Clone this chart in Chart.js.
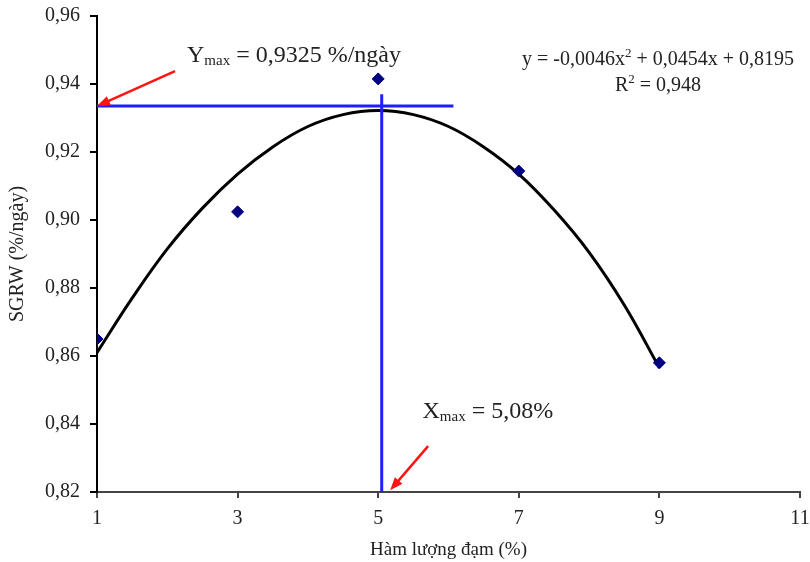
<!DOCTYPE html>
<html lang="vi">
<head>
  <meta charset="UTF-8">
  <title>SGRW theo hàm lượng đạm</title>
  <script src="https://cdn.jsdelivr.net/npm/chart.js@4"></script>
  <style>
    * { margin: 0; padding: 0; }
    body { background: #fff; }
    canvas { display: block; }
  </style>
</head>
<body>
  <canvas id="chart" width="810" height="562"></canvas>
  <script>
    // ---------- Data ----------
    const nitrogen = [1, 3, 5, 7, 9];
    const sgrw     = [0.865, 0.9024, 0.9415, 0.9144, 0.858];

    // fitted curve as drawn in the picture (read at half steps)
    const curveX = [1, 1.5, 2, 2.5, 3, 3.5, 4, 4.5, 5, 5.5, 6, 6.5, 7, 7.5, 8, 8.5, 9];
    const curveY = [0.861, 0.877, 0.8915, 0.9035, 0.9135, 0.9215, 0.9275, 0.931, 0.9322,
                    0.931, 0.9275, 0.9215, 0.9135, 0.903, 0.8905, 0.875, 0.8565];

    // guide lines at the maximum
    const yMaxLine = { x: [1, 6.07], y: 0.9335 };
    const xMaxLine = { x: 5.05, y: [0.82, 0.937] };

    const xTicks = [1, 3, 5, 7, 9, 11];
    const yTicks = [0.82, 0.84, 0.86, 0.88, 0.90, 0.92, 0.94, 0.96];

    const FONT = "'Liberation Serif', 'Times New Roman', serif";
    const INK = '#222';
    const comma = v => v.toFixed(2).replace('.', ',');

    // ---------- Annotations: texts + red arrows, in data coords ----------
    const annotations = {
      id: 'annotations',
      afterDraw(chart) {
        const { ctx, scales: { x, y } } = chart;
        const px = v => x.getPixelForValue(v);
        const py = v => y.getPixelForValue(v);

        function arrow(x0, y0, x1, y1) {
          const a = Math.atan2(y1 - y0, x1 - x0);
          const len = 13, half = 5;
          ctx.save();
          ctx.strokeStyle = '#ff1414';
          ctx.fillStyle = '#ff1414';
          ctx.lineWidth = 2.5;
          ctx.beginPath();
          ctx.moveTo(x0, y0);
          ctx.lineTo(x1 - Math.cos(a) * len * 0.8, y1 - Math.sin(a) * len * 0.8);
          ctx.stroke();
          ctx.beginPath();
          ctx.moveTo(x1, y1);
          ctx.lineTo(x1 - Math.cos(a) * len - Math.sin(a) * half, y1 - Math.sin(a) * len + Math.cos(a) * half);
          ctx.lineTo(x1 - Math.cos(a) * len + Math.sin(a) * half, y1 - Math.sin(a) * len - Math.cos(a) * half);
          ctx.closePath();
          ctx.fill();
          ctx.restore();
        }

        function subLabel(main, sub, rest, xv, yv) {
          let cx = px(xv);
          const cy = py(yv);
          ctx.save();
          ctx.fillStyle = INK;
          ctx.textBaseline = 'alphabetic';
          ctx.textAlign = 'left';
          ctx.font = `24px ${FONT}`;
          ctx.fillText(main, cx, cy);
          cx += ctx.measureText(main).width;
          ctx.font = `15px ${FONT}`;
          ctx.fillText(sub, cx, cy + 3);
          cx += ctx.measureText(sub).width;
          ctx.font = `24px ${FONT}`;
          ctx.fillText(rest, cx, cy);
          ctx.restore();
        }

        arrow(px(2.11), py(0.9438), px(1.0), py(0.9335));
        arrow(px(5.71), py(0.8335), px(5.17), py(0.8205));

        subLabel('Y', 'max', ' = 0,9325 %/ngày', 2.28, 0.9465);
        subLabel('X', 'max', ' = 5,08%', 5.63, 0.8418);

        // equation + R²
        ctx.save();
        ctx.fillStyle = INK;
        ctx.textBaseline = 'alphabetic';
        const big = `20px ${FONT}`, small = `13px ${FONT}`;
        const parts = [
          ['y = -0,0046x', big, 0], ['2', small, -8], [' + 0,0454x + 0,8195', big, 0]
        ];
        const r2 = [['R', big, 0], ['2', small, -8], [' = 0,948', big, 0]];
        function line(segs, xc, yb) {
          let w = 0;
          segs.forEach(([t, f]) => { ctx.font = f; w += ctx.measureText(t).width; });
          let cx = xc - w / 2;
          segs.forEach(([t, f, dy]) => {
            ctx.font = f;
            ctx.fillText(t, cx, yb + dy);
            cx += ctx.measureText(t).width;
          });
        }
        line(parts, px(8.98), py(0.9457));
        line(r2, px(8.98), py(0.9378));
        ctx.restore();
      }
    };

    new Chart(document.getElementById('chart'), {
      type: 'scatter',
      data: {
        datasets: [
          {
            label: 'SGRW',
            data: nitrogen.map((n, i) => ({ x: n, y: sgrw[i] })),
            pointStyle: 'rectRot',
            pointRadius: 6,
            backgroundColor: '#000080',
            borderColor: '#000080',
            borderWidth: 1,
          },
          {
            type: 'line',
            label: 'Ymax',
            data: yMaxLine.x.map(v => ({ x: v, y: yMaxLine.y })),
            borderColor: '#1e1eff',
            borderWidth: 3,
            pointRadius: 0,
          },
          {
            type: 'line',
            label: 'Xmax',
            data: xMaxLine.y.map(v => ({ x: xMaxLine.x, y: v })),
            borderColor: '#1e1eff',
            borderWidth: 3,
            pointRadius: 0,
          },
          {
            type: 'line',
            label: 'Poly',
            data: curveX.map((v, i) => ({ x: v, y: curveY[i] })),
            borderColor: '#000',
            borderWidth: 3,
            pointRadius: 0,
            tension: 0.4,
          },
        ],
      },
      options: {
        responsive: false,
        animation: false,
        layout: { padding: { top: 16, right: 10, left: 0, bottom: 0 } },
        plugins: { legend: { display: false }, tooltip: { enabled: false } },
        scales: {
          x: {
            type: 'linear',
            min: 1, max: 11,
            afterBuildTicks: s => { s.ticks = xTicks.map(v => ({ value: v })); },
            afterFit: s => { s.height = 70; s.paddingLeft = 0; s.paddingRight = 0; },
            border: { color: '#444', width: 2 },
            grid: { drawOnChartArea: false, color: '#444', tickLength: 6, lineWidth: 2 },
            ticks: { color: INK, font: { family: FONT, size: 20 }, padding: 9, maxRotation: 0 },
            title: {
              display: true, text: 'Hàm lượng đạm (%)', color: INK,
              font: { family: FONT, size: 19 }, padding: { top: 0, bottom: 1 },
            },
          },
          y: {
            type: 'linear',
            min: 0.82, max: 0.96,
            afterBuildTicks: s => { s.ticks = yTicks.map(v => ({ value: v })); },
            afterFit: s => { s.width = 97; s.paddingTop = 0; s.paddingBottom = 0; },
            border: { color: '#000', width: 2 },
            grid: { drawOnChartArea: false, color: '#000', tickLength: 7, lineWidth: 2 },
            ticks: { color: INK, font: { family: FONT, size: 20 }, padding: 10, callback: v => comma(v) },
            title: {
              display: true, text: 'SGRW (%/ngày)', color: INK,
              font: { family: FONT, size: 20 }, padding: { top: 6, bottom: 0 },
            },
          },
        },
      },
      plugins: [annotations],
    });
  </script>
</body>
</html>
